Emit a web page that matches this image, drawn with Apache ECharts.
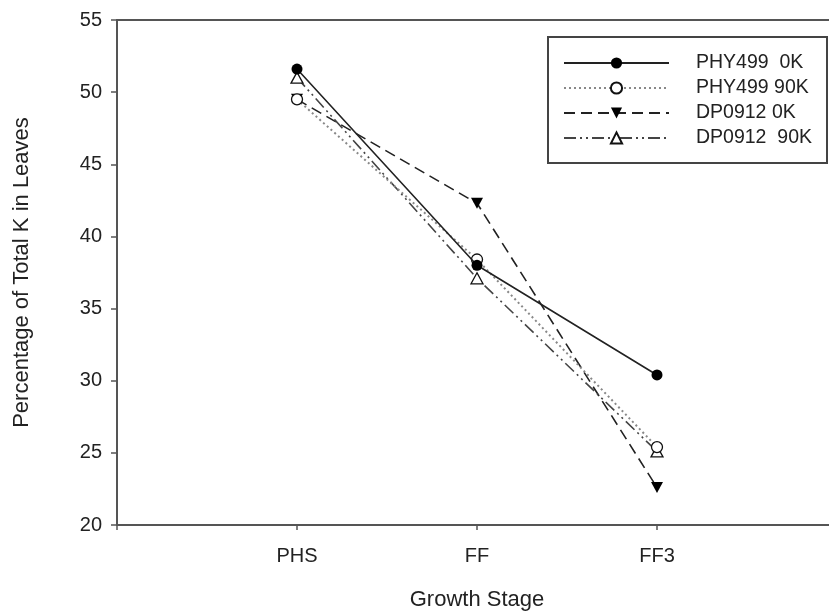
<!DOCTYPE html>
<html>
<head>
<meta charset="utf-8">
<script src="https://cdn.jsdelivr.net/npm/echarts@6/dist/echarts.min.js"></script>
<style>html,body{margin:0;padding:0;background:#fff;}#c{width:829px;height:611px;}</style>
</head>
<body>
<div id="c"></div>
<script>
var stages = ['PHS', 'FF', 'FF3'];
var stagePos = [1, 2, 3];
var yTicks = [20, 25, 30, 35, 40, 45, 50, 55];
var seriesNames = ['PHY499  0K', 'PHY499 90K', 'DP0912 0K', 'DP0912  90K'];
var phy499_0K = [51.6, 38.0, 30.4];
var phy499_90K = [49.5, 38.4, 25.4];
var dp0912_0K = [49.5, 42.3, 22.6];
var dp0912_90K = [51.0, 37.1, 25.1];

function pts(vals) { return vals.map(function (v, i) { return [stagePos[i], v]; }); }

var FONT = '"Liberation Sans", Arial, sans-serif';
var AX = '#555';

var chart = echarts.init(document.getElementById('c'), null, { renderer: 'canvas' });
chart.setOption({
  animation: false,
  backgroundColor: '#fff',
  grid: { left: 117, top: 20, width: 720, height: 505, containLabel: false, outerBoundsMode: 'none', show: true, borderColor: AX, borderWidth: 2, backgroundColor: 'transparent' },
  legend: {
    orient: 'vertical', left: 548, top: 37,
    padding: [16, 15, 15, 15],
    itemWidth: 105, itemHeight: 14, itemGap: 5,
    borderColor: '#444', borderWidth: 2, backgroundColor: '#fff',
    textStyle: { fontFamily: FONT, fontSize: 19.5, lineHeight: 19, color: '#222', padding: [0, 0, 0, 22] },
    data: seriesNames
  },
  xAxis: {
    type: 'value', min: 0, max: 4, interval: 1,
    name: 'Growth Stage', nameLocation: 'middle', nameGap: 64,
    nameTextStyle: { fontFamily: FONT, fontSize: 22, color: '#222' },
    axisLine: { show: true, lineStyle: { color: AX, width: 2 } },
    axisTick: { show: true, inside: false, length: 5, lineStyle: { color: AX, width: 1.5 } },
    axisLabel: {
      fontFamily: FONT, fontSize: 20, color: '#222', margin: 21,
      formatter: function (v) { var i = stagePos.indexOf(v); return i >= 0 ? stages[i] : ''; }
    },
    splitLine: { show: false }
  },
  yAxis: {
    type: 'value', min: yTicks[0], max: yTicks[yTicks.length - 1], interval: 5,
    name: 'Percentage of Total K in Leaves', nameLocation: 'middle', nameGap: 84, nameRotate: 90,
    nameTextStyle: { fontFamily: FONT, fontSize: 22, color: '#222' },
    axisLine: { show: true, lineStyle: { color: AX, width: 2 } },
    axisTick: { show: true, inside: false, length: 6, lineStyle: { color: AX, width: 1.5 } },
    axisLabel: { fontFamily: FONT, fontSize: 20, color: '#222', margin: 15 },
    splitLine: { show: false }
  },
  series: [
    {
      name: seriesNames[0], type: 'line', data: pts(phy499_0K),
      symbol: 'circle', symbolSize: 11,
      lineStyle: { color: '#222', width: 1.6, type: 'solid' },
      itemStyle: { color: '#000', borderColor: '#000', borderWidth: 0 }, z: 5
    },
    {
      name: seriesNames[1], type: 'line', data: pts(phy499_90K),
      symbol: 'circle', symbolSize: 11,
      lineStyle: { color: '#888', width: 2, type: [2, 3] },
      itemStyle: { color: '#fff', borderColor: '#111', borderWidth: 1.3 }, z: 4
    },
    {
      name: seriesNames[2], type: 'line', data: pts(dp0912_0K),
      symbol: 'path://M0,0 L10,0 L5,9 Z', symbolSize: [12, 11],
      lineStyle: { color: '#222', width: 1.6, type: [11, 6] },
      itemStyle: { color: '#000', borderColor: '#000', borderWidth: 0 }, z: 3
    },
    {
      name: seriesNames[3], type: 'line', data: pts(dp0912_90K),
      symbol: 'triangle', symbolSize: [12, 11],
      lineStyle: { color: '#444', width: 1.6, type: [12, 4, 2, 4, 2, 4] },
      itemStyle: { color: '#fff', borderColor: '#111', borderWidth: 1.3 }, z: 3
    }
  ]
});
</script>
</body>
</html>
